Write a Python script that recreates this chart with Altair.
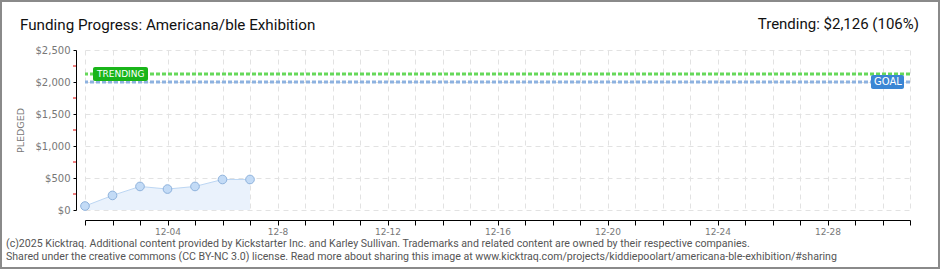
import altair as alt
import pandas as pd

# ---- data ----
days = [1, 2, 3, 4, 5, 6, 7]
dates = ["12-01", "12-02", "12-03", "12-04", "12-05", "12-06", "12-07"]
pledged = [62, 228, 368, 327, 368, 477, 477]
goal_value = 2000
trend_value = 2126
y_ticks = [0, 500, 1000, 1500, 2000, 2500]
y_minor = [250, 750, 1250, 1750, 2250]
x_days = list(range(1, 32))
x_label_days = [4, 8, 12, 16, 20, 24, 28]
x_tick_labels = ["12-04", "12-8", "12-12", "12-16", "12-20", "12-24", "12-28"]

title_text = "Funding Progress: Americana/ble Exhibition"
trend_text = "Trending: $2,126 (106%)"
footer1 = "(c)2025 Kicktraq. Additional content provided by Kickstarter Inc. and Karley Sullivan. Trademarks and related content are owned by their respective companies."
footer2 = "Shared under the creative commons (CC BY-NC 3.0) license. Read more about sharing this image at www.kicktraq.com/projects/kiddiepoolart/americana-ble-exhibition/#sharing"

W, H = 825, 160
FONT = "Roboto"

df = pd.DataFrame({"day": days, "date": dates, "pledged": pledged})

label_expr = "''"
for d, lab in zip(reversed(x_label_days), reversed(x_tick_labels)):
    label_expr = f"datum.value == {d} ? '{lab}' : ({label_expr})"

xscale = alt.Scale(domain=[1, 31], nice=False, zero=False)
yscale = alt.Scale(domain=[0, 2500], nice=False)

x_axis = alt.Axis(values=x_days, labelExpr=label_expr, offset=10, grid=True,
                  gridDash=[5, 4], gridColor="#e2e2e2", domainColor="#000",
                  tickColor="#000", tickSize=5, labelColor="#777", labelFont="DejaVu Sans",
                  labelFontSize=9, labelPadding=2, title=None, labelOverlap=False)
y_axis = alt.Axis(values=y_ticks, labelExpr="'$' + format(datum.value, ',')", offset=9,
                  grid=True, gridDash=[5, 4], gridColor="#e2e2e2", domainColor="#000",
                  tickColor="#000", tickSize=3, labelColor="#777", labelFont="DejaVu Sans",
                  labelFontSize=10, labelPadding=3, title="PLEDGED", titleColor="#777",
                  titleFont="DejaVu Sans", titleFontSize=9.5, titleFontWeight="normal",
                  titlePadding=10)


def X(field):
    return alt.X(field, scale=xscale, axis=x_axis, title=None)


def Y(field):
    return alt.Y(field, scale=yscale, axis=y_axis, title="PLEDGED")


base = alt.Chart(df)
area = base.mark_area(color="#eaf2fc").encode(x=X("day:Q"), y=Y("pledged:Q"))
line = base.mark_line(color="#bcd6f3", strokeWidth=1).encode(x=X("day:Q"), y=Y("pledged:Q"))
pts = base.mark_circle(size=75, color="#c3dbf6", stroke="#8eb2dc", strokeWidth=1, opacity=1).encode(
    x=X("day:Q"), y=Y("pledged:Q"))

lines_df = pd.DataFrame({"v": [goal_value, trend_value], "kind": ["goal", "trend"]})
goal_rule = alt.Chart(lines_df).transform_filter("datum.kind == 'goal'").mark_rule(
    color="#8db2e0", strokeWidth=3, strokeDash=[4, 2]).encode(y=Y("v:Q"))
trend_rule = alt.Chart(lines_df).transform_filter("datum.kind == 'trend'").mark_rule(
    color="#66d85a", strokeWidth=3, strokeDash=[4, 2]).encode(y=Y("v:Q"))

half = 7 * 2500 / H  # half badge height in data units
badge_df = pd.DataFrame({
    "v": [trend_value, goal_value],
    "lo": [trend_value - half, goal_value - half],
    "hi": [trend_value + half, goal_value + half],
    "label": ["TRENDING", "GOAL"],
})
trend_badge = alt.Chart(badge_df).transform_filter("datum.label == 'TRENDING'").mark_rect(
    color="#19b519", cornerRadius=2).encode(
    x=alt.value(8), x2=alt.value(63), y=Y("lo:Q"), y2="hi:Q")
trend_badge_txt = alt.Chart(badge_df).transform_filter("datum.label == 'TRENDING'").mark_text(
    color="white", font="DejaVu Sans", fontSize=9, align="left", baseline="middle").encode(
    x=alt.value(12), y=Y("v:Q"), text="label:N")
goal_badge = alt.Chart(badge_df).transform_filter("datum.label == 'GOAL'").mark_rect(
    color="#3a86d4", cornerRadius=2).encode(
    x=alt.value(786), x2=alt.value(819), y=Y("lo:Q"), y2="hi:Q")
goal_badge_txt = alt.Chart(badge_df).transform_filter("datum.label == 'GOAL'").mark_text(
    color="white", font="DejaVu Sans", fontSize=10, align="left", baseline="middle").encode(
    x=alt.value(789), y=Y("v:Q"), text="label:N")

minor = alt.Chart(pd.DataFrame({"m": y_minor})).mark_rule(color="#e00000", strokeWidth=1).encode(
    x=alt.value(-12), x2=alt.value(-9), y=Y("m:Q"))

one = pd.DataFrame({"a": [0]})
title = alt.Chart(one).mark_text(text=title_text, font=FONT, fontSize=15.2, color="#111",
                                 align="left", baseline="alphabetic").encode(
    x=alt.value(-65), y=alt.value(-20))
trend_t = alt.Chart(one).mark_text(text=trend_text, font=FONT, fontSize=15, color="#111",
                                   align="right", baseline="alphabetic").encode(
    x=alt.value(834), y=alt.value(-21))
f1 = alt.Chart(one).mark_text(text=footer1, font=FONT, fontSize=10.6, color="#555",
                              align="left", baseline="alphabetic").encode(
    x=alt.value(-79), y=alt.value(197))
f2 = alt.Chart(one).mark_text(text=footer2, font=FONT, fontSize=10.6, color="#555",
                              align="left", baseline="alphabetic").encode(
    x=alt.value(-79), y=alt.value(210))
border = alt.Chart(one).mark_rect(filled=False, stroke="#8a8a8a", strokeWidth=2).encode(
    x=alt.value(-84), x2=alt.value(854), y=alt.value(-49), y2=alt.value(218))

chart = alt.layer(
    area, line, pts, goal_rule, trend_rule, trend_badge, trend_badge_txt,
    goal_badge, goal_badge_txt, minor, title, trend_t, f1, f2, border
).properties(
    width=W, height=H,
    padding={"left": 85, "top": 50, "right": 30, "bottom": 60},
    autosize=alt.AutoSizeParams(type="none"),
    background="white",
).configure_view(stroke=None)

chart.save("out.html", embed_options={"renderer": "svg", "actions": False})
